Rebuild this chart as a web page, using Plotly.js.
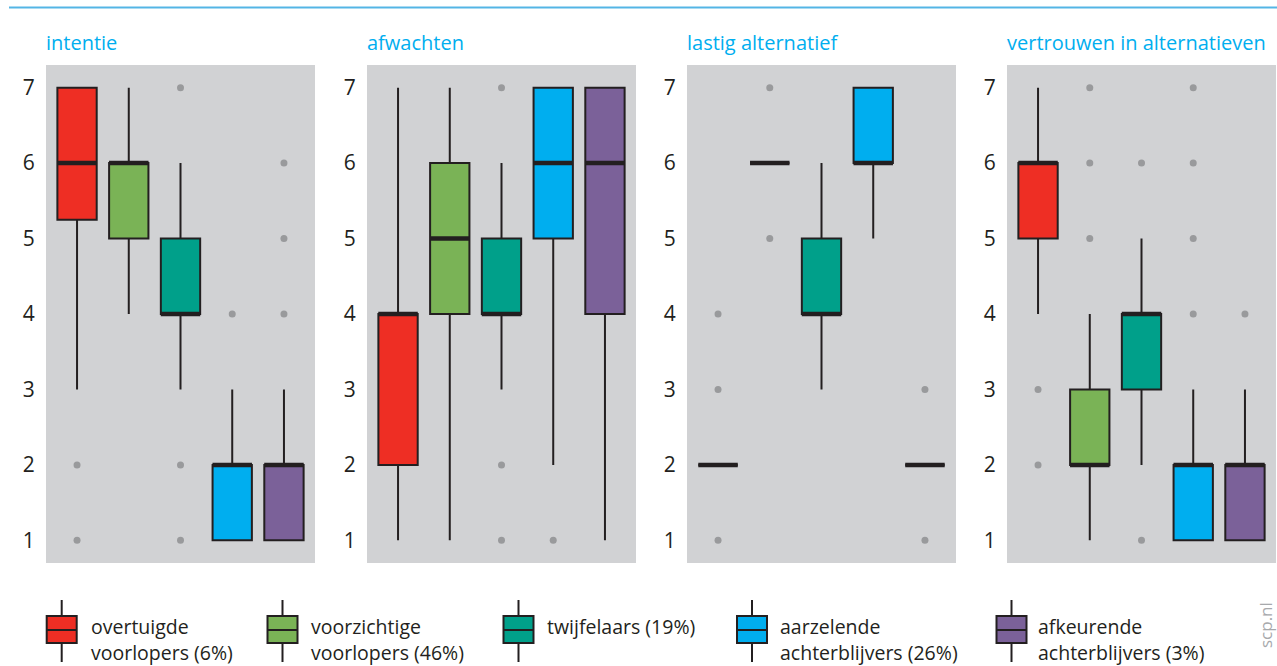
<!DOCTYPE html>
<html>
<head>
<meta charset="utf-8">
<script src="https://cdn.plot.ly/plotly-3.0.1.min.js"></script>
<style>html,body{margin:0;padding:0;background:#fff;}#chart{width:1277px;height:666px;}</style>
</head>
<body>
<div id="chart"></div>
<script>
// ---- data ----
const groups = ['overtuigde voorlopers', 'voorzichtige voorlopers', 'twijfelaars', 'aarzelende achterblijvers', 'afkeurende achterblijvers'];
const groupLabels = ['overtuigde<br>voorlopers (6%)', 'voorzichtige<br>voorlopers (46%)', 'twijfelaars (19%)', 'aarzelende<br>achterblijvers (26%)', 'afkeurende<br>achterblijvers (3%)'];
const panelTitles = ['intentie', 'afwachten', 'lastig alternatief', 'vertrouwen in alternatieven'];
const yTicks = [1, 2, 3, 4, 5, 6, 7];

const intentieQ1 = [5.25, 5, 4, 1, 1];
const intentieMedian = [6, 6, 4, 2, 2];
const intentieQ3 = [7, 6, 5, 2, 2];
const intentieLow = [3, 4, 3, 1, 1];
const intentieHigh = [7, 7, 6, 3, 3];
const intentieOutliers = [[2, 1], [], [7, 2, 1], [4], [6, 5, 4]];

const afwachtenQ1 = [2, 4, 4, 5, 4];
const afwachtenMedian = [4, 5, 4, 6, 6];
const afwachtenQ3 = [4, 6, 5, 7, 7];
const afwachtenLow = [1, 1, 3, 2, 1];
const afwachtenHigh = [7, 7, 6, 7, 7];
const afwachtenOutliers = [[], [], [7, 2, 1], [1], []];

const lastigQ1 = [2, 6, 4, 6, 2];
const lastigMedian = [2, 6, 4, 6, 2];
const lastigQ3 = [2, 6, 5, 7, 2];
const lastigLow = [2, 6, 3, 5, 2];
const lastigHigh = [2, 6, 6, 7, 2];
const lastigOutliers = [[4, 3, 1], [7, 5], [], [], [3, 1]];

const vertrouwenQ1 = [5, 2, 3, 1, 1];
const vertrouwenMedian = [6, 2, 4, 2, 2];
const vertrouwenQ3 = [6, 3, 4, 2, 2];
const vertrouwenLow = [4, 1, 2, 1, 1];
const vertrouwenHigh = [7, 4, 5, 3, 3];
const vertrouwenOutliers = [[3, 2], [7, 6, 5], [6, 1], [7, 6, 5, 4], [4]];

// ---- styles ----
const colors = ['#ee2e24', '#7ab356', '#00a08a', '#00aeef', '#7b6199'];
const W = 1277, H = 666;
const panelLeft = [46, 367, 687, 1007];
const panelWidth = 269;
const plotTop = 65, plotBottom = 563;
const px = v => v / W;
const py = v => 1 - v / H;
const ink = '#231f20';
const FONT = '"Open Sans", "Noto Sans", sans-serif';

const panels = [
  {q1: intentieQ1, med: intentieMedian, q3: intentieQ3, lo: intentieLow, hi: intentieHigh, out: intentieOutliers},
  {q1: afwachtenQ1, med: afwachtenMedian, q3: afwachtenQ3, lo: afwachtenLow, hi: afwachtenHigh, out: afwachtenOutliers},
  {q1: lastigQ1, med: lastigMedian, q3: lastigQ3, lo: lastigLow, hi: lastigHigh, out: lastigOutliers},
  {q1: vertrouwenQ1, med: vertrouwenMedian, q3: vertrouwenQ3, lo: vertrouwenLow, hi: vertrouwenHigh, out: vertrouwenOutliers}
];

const traces = [];
const layout = {
  width: W, height: H,
  margin: {l: 0, r: 0, t: 0, b: 0},
  paper_bgcolor: '#ffffff',
  plot_bgcolor: '#d1d2d4',
  showlegend: false,
  boxmode: 'overlay',
  font: {family: FONT, color: ink},
  shapes: [],
  annotations: []
};

panels.forEach((p, pi) => {
  const sfx = pi === 0 ? '' : String(pi + 1);
  const xa = 'x' + sfx, ya = 'y' + sfx;
  layout['xaxis' + sfx] = {
    domain: [px(panelLeft[pi]), px(panelLeft[pi] + panelWidth)],
    anchor: ya, type: 'category', categoryarray: groups, categoryorder: 'array',
    range: [-0.6, 4.6], showticklabels: false, showgrid: false, zeroline: false,
    showline: false, ticks: '', fixedrange: true
  };
  layout['yaxis' + sfx] = {
    domain: [py(plotBottom), py(plotTop)],
    anchor: xa, range: [0.7, 7.3], tickvals: yTicks, ticktext: yTicks.map(String),
    showgrid: false, zeroline: false, showline: false,
    ticks: 'outside', ticklen: 6, tickcolor: 'rgba(0,0,0,0)',
    tickfont: {size: 21, color: ink, family: FONT}, fixedrange: true
  };
  groups.forEach((g, gi) => {
    traces.push({
      type: 'box', xaxis: xa, yaxis: ya,
      x: [g], q1: [p.q1[gi]], median: [p.med[gi]], q3: [p.q3[gi]],
      lowerfence: [p.lo[gi]], upperfence: [p.hi[gi]],
      width: 0.76, whiskerwidth: 0, boxpoints: false,
      fillcolor: colors[gi], line: {color: ink, width: 2},
      hoverinfo: 'skip'
    });
    if (p.out[gi].length) {
      traces.push({
        type: 'scatter', mode: 'markers', xaxis: xa, yaxis: ya,
        x: p.out[gi].map(() => g), y: p.out[gi],
        marker: {color: '#999a9c', size: 7}, hoverinfo: 'skip'
      });
    }
  });
  // thick median bars
  traces.push({
    type: 'scatter', mode: 'markers', xaxis: xa, yaxis: ya,
    x: groups, y: p.med,
    marker: {symbol: 'line-ew', size: 28.2, line: {color: ink, width: 4.5}},
    hoverinfo: 'skip'
  });
  layout.annotations.push({
    xref: 'paper', yref: 'paper', x: px(panelLeft[pi] - 2), y: py(42),
    xanchor: 'left', yanchor: 'middle', showarrow: false,
    text: panelTitles[pi], font: {size: 20, color: '#00aeef', family: FONT}
  });
});

// top rule
layout.shapes.push({type: 'line', xref: 'paper', yref: 'paper', x0: px(9), x1: 1, y0: py(7.5), y1: py(7.5), line: {color: '#54b5e5', width: 2}});

// legend
const legendCenters = [61.7, 282.5, 518.5, 752, 1011.5];
const legendText = [90, 310, 546, 779, 1037];
groupLabels.forEach((lab, i) => {
  const cx = legendCenters[i];
  layout.shapes.push({type: 'line', xref: 'paper', yref: 'paper', x0: px(cx), x1: px(cx), y0: py(600), y1: py(616), line: {color: ink, width: 2}});
  layout.shapes.push({type: 'line', xref: 'paper', yref: 'paper', x0: px(cx), x1: px(cx), y0: py(643), y1: py(662), line: {color: ink, width: 2}});
  layout.shapes.push({type: 'rect', xref: 'paper', yref: 'paper', x0: px(cx - 15), x1: px(cx + 15), y0: py(643), y1: py(616), fillcolor: colors[i], line: {color: ink, width: 2}});
  layout.shapes.push({type: 'line', xref: 'paper', yref: 'paper', x0: px(cx - 15), x1: px(cx + 15), y0: py(630), y1: py(630), line: {color: ink, width: 2}});
  lab.split('<br>').forEach((line, li) => {
    layout.annotations.push({
      xref: 'paper', yref: 'paper', x: px(legendText[i]), y: py(626 + li * 26),
      xanchor: 'left', yanchor: 'middle', showarrow: false, borderpad: 0,
      text: line, font: {size: 19.5, color: ink, family: FONT}
    });
  });
});

layout.annotations.push({
  xref: 'paper', yref: 'paper', x: px(1265), y: py(625), xanchor: 'center', yanchor: 'middle',
  showarrow: false, textangle: -90, text: 'scp.nl', font: {size: 17, color: '#a7a9ac', family: FONT}
});

Plotly.newPlot('chart', traces, layout, {staticPlot: true, displayModeBar: false});
</script>
</body>
</html>
